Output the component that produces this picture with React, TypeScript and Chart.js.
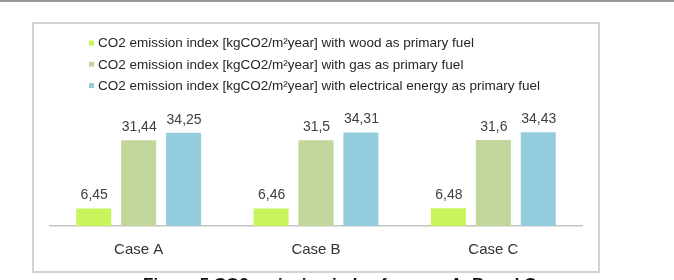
import React, { useEffect, useRef } from "react";
import { Chart, registerables } from "chart.js";

Chart.register(...registerables);

const categories = ["Case A", "Case B", "Case C"];
const woodValues = [6.45, 6.46, 6.48];
const gasValues = [31.44, 31.5, 31.6];
const electricValues = [34.25, 34.31, 34.43];
const seriesLabels = [
  "CO2 emission index [kgCO2/m\u00B2year] with wood as primary fuel",
  "CO2 emission index [kgCO2/m\u00B2year] with gas as primary fuel",
  "CO2 emission index [kgCO2/m\u00B2year] with electrical energy as primary fuel",
];
const seriesColors = ["#C8F55C", "#C3D69B", "#93CDDD"];
const captionText = "Figure 5 CO2 emission index for case A, B and C";

const FONT = '"Liberation Sans", Arial, sans-serif';

const legendPlugin = {
  id: "customLegend",
  afterDraw(chart: any) {
    const ctx = chart.ctx;
    ctx.save();
    ctx.font = `13.5px ${FONT}`;
    ctx.textBaseline = "middle";
    ctx.textAlign = "left";
    chart.data.datasets.forEach((ds: any, i: number) => {
      const y = 43 + i * 21.3;
      ctx.fillStyle = ds.backgroundColor;
      ctx.fillRect(89, y - 2.5, 5, 5);
      ctx.fillStyle = "#262626";
      ctx.fillText(ds.label, 98, y + 0.5);
    });
    ctx.restore();
  },
};

const valueLabelPlugin = {
  id: "valueLabels",
  afterDatasetsDraw(chart: any) {
    const ctx = chart.ctx;
    ctx.save();
    ctx.font = `14px ${FONT}`;
    ctx.fillStyle = "#404040";
    ctx.textAlign = "center";
    ctx.textBaseline = "bottom";
    chart.data.datasets.forEach((ds: any, di: number) => {
      const meta = chart.getDatasetMeta(di);
      meta.data.forEach((el: any, i: number) => {
        const txt = String(ds.data[i]).replace(".", ",");
        ctx.fillText(txt, el.x + 0.5, el.y - 6);
      });
    });
    ctx.restore();
  },
};

export default function App() {
  const canvasRef = useRef<HTMLCanvasElement | null>(null);

  useEffect(() => {
    if (!canvasRef.current) return;
    const chart = new Chart(canvasRef.current, {
      type: "bar",
      data: {
        labels: categories,
        datasets: [
          { label: seriesLabels[0], data: woodValues, backgroundColor: seriesColors[0] },
          { label: seriesLabels[1], data: gasValues, backgroundColor: seriesColors[1] },
          { label: seriesLabels[2], data: electricValues, backgroundColor: seriesColors[2] },
        ],
      },
      options: {
        responsive: false,
        animation: false,
        layout: { padding: { left: 50, right: 92, top: 117, bottom: 14 } },
        datasets: {
          bar: { categoryPercentage: 0.76, barPercentage: 0.78 },
        },
        plugins: {
          legend: { display: false },
          tooltip: { enabled: false },
        },
        scales: {
          x: {
            grid: { display: false },
            border: { display: true, color: "#C4C4C4", width: 1.5 },
            ticks: {
              padding: 7,
              color: "#333333",
              font: { family: FONT, size: 15 },
            },
          },
          y: {
            display: false,
            min: 0,
            max: 40,
          },
        },
      },
      plugins: [legendPlugin, valueLabelPlugin],
    });
    return () => chart.destroy();
  }, []);

  return (
    <div
      style={{
        position: "fixed",
        left: 0,
        top: 0,
        width: 674,
        height: 280,
        background: "#ffffff",
        overflow: "hidden",
      }}
    >
      <div
        style={{
          position: "absolute",
          left: 0,
          top: 0,
          width: 674,
          height: 2,
          background: "#9a9a9a",
        }}
      />
      <div
        style={{
          position: "absolute",
          left: 32,
          top: 22,
          width: 564,
          height: 247,
          border: "2px solid #d2d2d2",
          boxSizing: "content-box",
        }}
      />
      <canvas
        ref={canvasRef}
        width={674}
        height={280}
        style={{ position: "absolute", left: 0, top: 0 }}
      />
      <div
        style={{
          position: "absolute",
          left: 143,
          top: 276,
          fontFamily: FONT,
          fontWeight: "bold",
          fontSize: 17,
          color: "#111111",
          whiteSpace: "nowrap",
          lineHeight: "18px",
        }}
      >
        {captionText}
      </div>
    </div>
  );
}
